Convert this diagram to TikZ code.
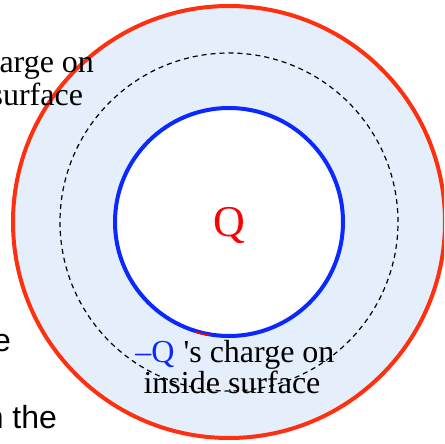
\documentclass[tikz,border=0pt]{standalone}
\usepackage{fontspec}
\setmainfont{Liberation Serif}
\newfontfamily\arialfont{Liberation Sans}
\usepackage{xcolor}
\definecolor{shellblue}{RGB}{229,238,251}
\definecolor{outerred}{RGB}{255,48,16}
\definecolor{innerblue}{RGB}{10,40,255}

\tikzset{
  sertext/.style={inner sep=0pt, font=\fontsize{32}{34}\selectfont},
  sanstext/.style={inner sep=0pt, font=\arialfont\fontsize{32}{34}\selectfont},
}

\begin{document}
\begin{tikzpicture}[x=1pt, y=-1pt, line width=4pt]
  \useasboundingbox (0,0) rectangle (444,444);
  \clip (0,0) rectangle (444,444);
  \coordinate (c) at (229,222);
  % charged shell
  \fill[shellblue, even odd rule] (c) circle (216pt) (c) circle (114pt);
  \draw[innerblue] (c) circle (114pt);
  \draw[red, line width=1.5pt] (c) ++(253:115pt) arc (253:260:115pt);
  \draw[outerred] (c) circle (216pt);
  % gaussian surface
  \draw[black, line width=1.2pt, dash pattern=on 5pt off 4pt] (c) circle (169pt);
  % labels
  \node[sertext, red, font=\fontsize{44}{44}\selectfont, anchor=base] (q) at (229,236) {Q};
  \node[sertext, anchor=base] (inner1) at (235,362) {{\color{innerblue}–Q}\hspace{9pt}\textquotesingle s charge on};
  \node[sertext, anchor=base] (inner2) at (232,393) {inside surface};
  \node[sertext, anchor=base east] (outer1) at (96,72) {arge on};
  \node[sertext, anchor=base east] (outer2) at (85,105) {surface};
  \node[sanstext, anchor=base east] (side1) at (13,351) {e};
  \node[sanstext, anchor=base east] (side2) at (59,428) {n the};
\end{tikzpicture}
\end{document}
